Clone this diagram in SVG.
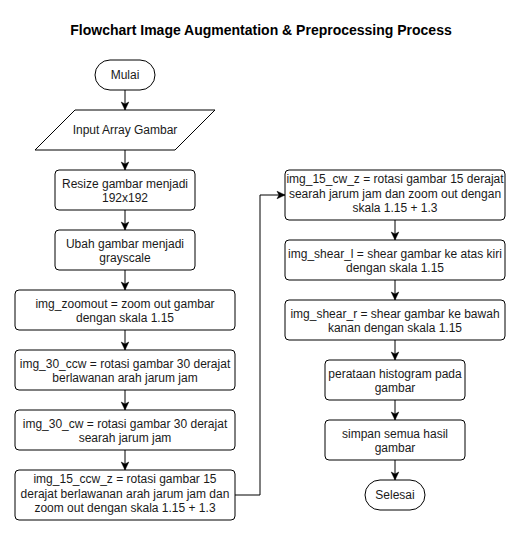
<svg xmlns="http://www.w3.org/2000/svg" width="522" height="537" viewBox="0 0 522 537">
<style>
  .box { fill: #ffffff; stroke: #000000; stroke-width: 1; }
  .t { font-family: "Liberation Sans", Arial, sans-serif; font-size: 12px; fill: #1a1a1a; text-anchor: middle; }
  .title { font-family: "Liberation Sans", Arial, sans-serif; font-size: 14px; font-weight: bold; fill: #000000; text-anchor: middle; }
  .c { fill: none; stroke: #000000; stroke-width: 1; marker-end: url(#arr); }
</style>
<defs>
  <marker id="arr" markerUnits="userSpaceOnUse" markerWidth="10" markerHeight="10" viewBox="0 0 10 10" refX="9" refY="5" orient="auto">
    <path d="M1,1.2 L9,5 L1,8.8 L3,5 Z" fill="#000000" stroke="#000000" stroke-width="0.5"/>
  </marker>
</defs>
<rect x="0" y="0" width="522" height="537" fill="#ffffff"/>
<text class="title" x="261" y="35">Flowchart Image Augmentation &amp; Preprocessing Process</text>

<g id="connectors">
  <path class="c" d="M125,90 L125,110"/>
  <path class="c" d="M125,150 L125,170"/>
  <path class="c" d="M125,210 L125,230"/>
  <path class="c" d="M125,270 L125,290"/>
  <path class="c" d="M125,330 L125,350"/>
  <path class="c" d="M125,390 L125,410"/>
  <path class="c" d="M125,450 L125,470"/>
  <path class="c" d="M235,495 L260,495 L260,195 L285,195"/>
  <path class="c" d="M395,220 L395,240"/>
  <path class="c" d="M395,280 L395,300"/>
  <path class="c" d="M395,340 L395,360"/>
  <path class="c" d="M395,400 L395,420"/>
  <path class="c" d="M395,460 L395,480"/>
</g>

<g id="mulai">
  <rect class="box" x="95" y="60" width="60" height="30" rx="15" ry="15"/>
  <text class="t" x="125" y="79">Mulai</text>
</g>
<g id="input">
  <polygon class="box" points="75,110 215,110 175,150 35,150"/>
  <text class="t" x="125" y="134">Input Array Gambar</text>
</g>
<g id="resize">
  <rect class="box" x="55" y="170" width="140" height="40" rx="4" ry="4"/>
  <text class="t" x="125" y="187.5">Resize gambar menjadi</text>
  <text class="t" x="125" y="202">192x192</text>
</g>
<g id="grayscale">
  <rect class="box" x="55" y="230" width="140" height="40" rx="4" ry="4"/>
  <text class="t" x="125" y="247.5">Ubah gambar menjadi</text>
  <text class="t" x="125" y="262">grayscale</text>
</g>
<g id="zoomout">
  <rect class="box" x="15" y="290" width="220" height="40" rx="4" ry="4"/>
  <text class="t" x="125" y="307.5">img_zoomout = zoom out gambar</text>
  <text class="t" x="125" y="322">dengan skala 1.15</text>
</g>
<g id="ccw30">
  <rect class="box" x="15" y="350" width="220" height="40" rx="4" ry="4"/>
  <text class="t" x="125" y="367.5">img_30_ccw = rotasi gambar 30 derajat</text>
  <text class="t" x="125" y="382">berlawanan arah jarum jam</text>
</g>
<g id="cw30">
  <rect class="box" x="15" y="410" width="220" height="40" rx="4" ry="4"/>
  <text class="t" x="125" y="427.5">img_30_cw = rotasi gambar 30 derajat</text>
  <text class="t" x="125" y="442">searah jarum jam</text>
</g>
<g id="ccw15z">
  <rect class="box" x="15" y="470" width="220" height="50" rx="4" ry="4"/>
  <text class="t" x="125" y="483">img_15_ccw_z = rotasi gambar 15</text>
  <text class="t" x="125" y="497.5">derajat berlawanan arah jarum jam dan</text>
  <text class="t" x="125" y="512">zoom out dengan skala 1.15 + 1.3</text>
</g>
<g id="cw15z">
  <rect class="box" x="285" y="170" width="220" height="50" rx="4" ry="4"/>
  <text class="t" x="395" y="183">img_15_cw_z = rotasi gambar 15 derajat</text>
  <text class="t" x="395" y="197.5">searah jarum jam dan zoom out dengan</text>
  <text class="t" x="395" y="212">skala 1.15 + 1.3</text>
</g>
<g id="shearl">
  <rect class="box" x="285" y="240" width="220" height="40" rx="4" ry="4"/>
  <text class="t" x="395" y="257.5">img_shear_l = shear gambar ke atas kiri</text>
  <text class="t" x="395" y="272">dengan skala 1.15</text>
</g>
<g id="shearr">
  <rect class="box" x="285" y="300" width="220" height="40" rx="4" ry="4"/>
  <text class="t" x="395" y="317.5">img_shear_r = shear gambar ke bawah</text>
  <text class="t" x="395" y="332">kanan dengan skala 1.15</text>
</g>
<g id="histogram">
  <rect class="box" x="325" y="360" width="140" height="40" rx="4" ry="4"/>
  <text class="t" x="395" y="377.5">perataan histogram pada</text>
  <text class="t" x="395" y="392">gambar</text>
</g>
<g id="simpan">
  <rect class="box" x="325" y="420" width="140" height="40" rx="4" ry="4"/>
  <text class="t" x="395" y="437.5">simpan semua hasil</text>
  <text class="t" x="395" y="452">gambar</text>
</g>
<g id="selesai">
  <rect class="box" x="365" y="480" width="60" height="30" rx="15" ry="15"/>
  <text class="t" x="395" y="499">Selesai</text>
</g>
</svg>
